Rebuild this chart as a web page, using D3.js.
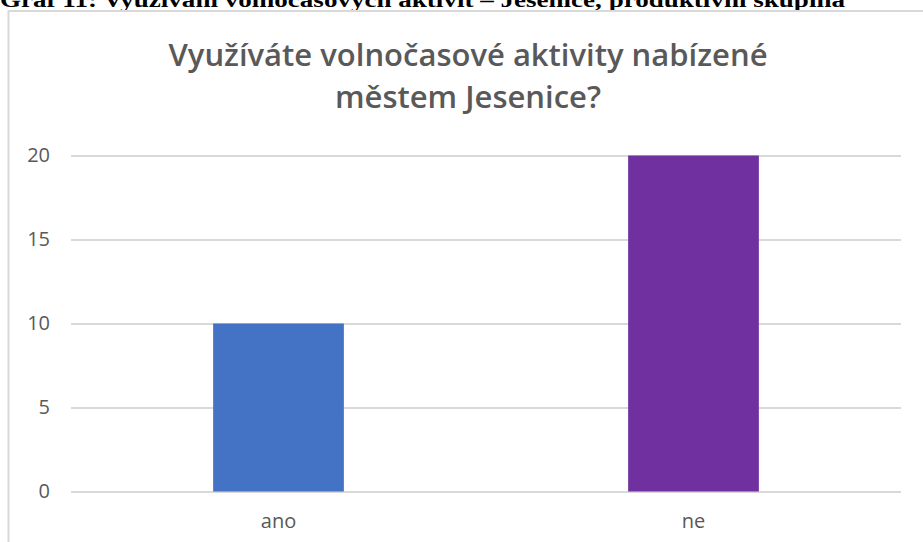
<!DOCTYPE html>
<html>
<head>
<meta charset="utf-8">
<script src="https://cdn.jsdelivr.net/npm/d3@7"></script>
<style>
  body { margin: 0; background: #fff; }
  svg { display: block; }
</style>
</head>
<body>
<div id="chart"></div>
<script>
// data
const categories = ['ano', 'ne'];
const counts = [10, 20];
const barColors = ['#4472C4', '#7030A0'];
const yTicks = [0, 5, 10, 15, 20];
const titleLines = ['Využíváte volnočasové aktivity nabízené', 'městem Jesenice?'];
const caption = 'Graf 11: Využívání volnočasových aktivit – Jesenice, produktivní skupina';

const svgWidth = 923,
      svgHeight = 542,
      margin = { top: 155.5, right: 22, bottom: 50.5, left: 71 },
      width = svgWidth - margin.left - margin.right,
      height = svgHeight - margin.top - margin.bottom;

const svg = d3.select('#chart')
  .append('svg')
  .attr('width', svgWidth)
  .attr('height', svgHeight);

// caption of the document, cut at the top edge like in the scan
svg.append('text')
  .attr('x', 0)
  .attr('y', 7)
  .attr('font-family', 'Liberation Serif, Times New Roman, serif')
  .attr('font-weight', 'bold')
  .attr('font-size', 20)
  .attr('textLength', 845)
  .attr('lengthAdjust', 'spacingAndGlyphs')
  .attr('fill', '#000')
  .text(caption);

// chart frame
svg.append('rect')
  .attr('x', 8.5)
  .attr('y', 11)
  .attr('width', 940)
  .attr('height', 560)
  .attr('fill', 'none')
  .attr('stroke', '#d9d9d9')
  .attr('stroke-width', 2);

// title
svg.append('text')
  .attr('font-family', 'Open Sans, sans-serif')
  .attr('font-weight', 600)
  .attr('font-size', 31)
  .attr('fill', '#595959')
  .attr('text-anchor', 'middle')
  .selectAll('tspan')
  .data(titleLines)
  .enter()
  .append('tspan')
  .attr('x', 468)
  .attr('y', (d, i) => 66 + i * 42)
  .text(d => d);

const chartGroup = svg.append('g')
  .attr('transform', `translate(${margin.left}, ${margin.top})`);

const xScale = d3.scaleBand()
  .domain(categories)
  .range([0, width]);

const yScale = d3.scaleLinear()
  .domain([0, 20])
  .range([height, 0]);

// gridlines + y labels
const leftAxis = d3.axisLeft(yScale)
  .tickValues(yTicks)
  .tickSize(-width)
  .tickPadding(21);

chartGroup.append('g')
  .classed('y-axis', true)
  .call(leftAxis)
  .call(g => g.select('.domain').remove())
  .call(g => g.selectAll('line').attr('stroke', '#d9d9d9').attr('stroke-width', 2))
  .call(g => g.selectAll('text')
    .attr('fill', '#595959')
    .attr('font-family', 'Open Sans, sans-serif')
    .attr('font-size', 20));

// bars
const barWidth = xScale.bandwidth() * 0.315;
chartGroup.selectAll('rect.bar')
  .data(counts)
  .enter()
  .append('rect')
  .classed('bar', true)
  .attr('x', (d, i) => xScale(categories[i]) + (xScale.bandwidth() - barWidth) / 2)
  .attr('y', d => yScale(d))
  .attr('width', barWidth)
  .attr('height', d => height - yScale(d))
  .attr('fill', (d, i) => barColors[i]);

// x labels
const bottomAxis = d3.axisBottom(xScale)
  .tickSize(0)
  .tickPadding(22);

chartGroup.append('g')
  .classed('x-axis', true)
  .attr('transform', `translate(0, ${height})`)
  .call(bottomAxis)
  .call(g => g.select('.domain').remove())
  .call(g => g.selectAll('text')
    .attr('fill', '#595959')
    .attr('font-family', 'Open Sans, sans-serif')
    .attr('font-size', 20));
</script>
</body>
</html>
